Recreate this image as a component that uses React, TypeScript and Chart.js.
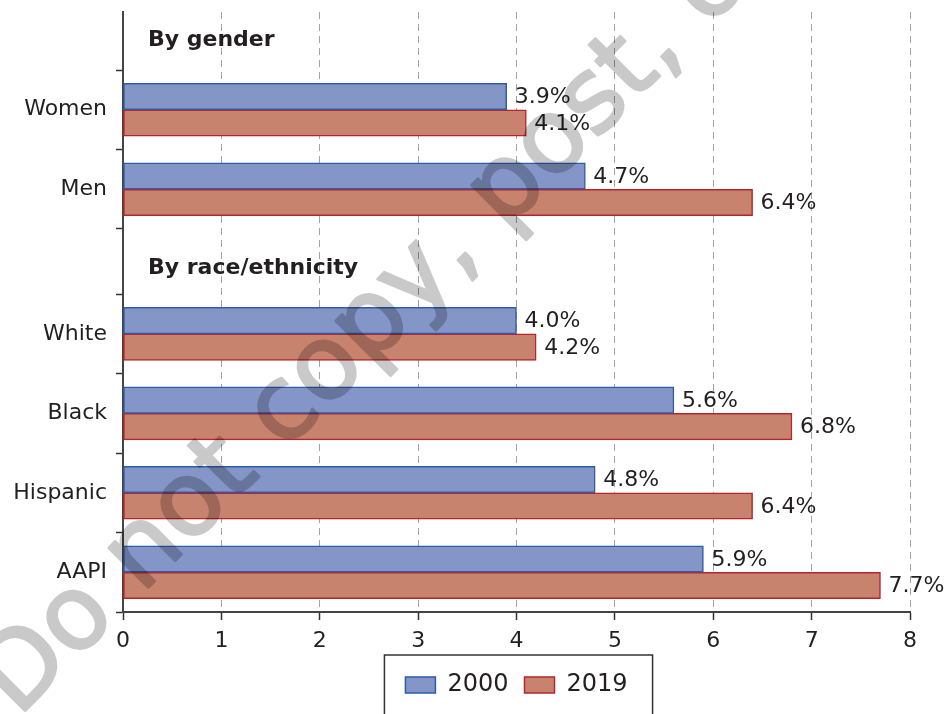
import React, { useEffect, useRef } from "react";
import { Chart, registerables } from "chart.js";

Chart.register(...registerables);

// ---------- data ----------
const categories = ["Women", "Men", "White", "Black", "Hispanic", "AAPI"];
const values2000 = [3.9, 4.7, 4.0, 5.6, 4.8, 5.9];
const values2019 = [4.1, 6.4, 4.2, 6.8, 6.4, 7.7];
const seriesLabels = ["2000", "2019"];
const groupHeaders = ["By gender", "By race/ethnicity"];
const xTickValues = [0, 1, 2, 3, 4, 5, 6, 7, 8];
const watermarkText = "Do not copy, post, or distribute";

// ---------- row layout along the category axis (row units) ----------
const rowCenters = [1.23, 2.23, 4.05, 5.05, 6.05, 7.05];
const rowBoundaries = [0.73, 1.73, 2.73, 3.55, 4.55, 5.55, 6.55, 7.55];
const headerCenters = [0.36, 3.22];
const rowAxisMax = 7.55;

const FONT = "'DejaVu Sans', sans-serif";
const TEXT = "#231F20";
const BLUE_FILL = "#8496C8";
const BLUE_BORDER = "#2E5CA6";
const RED_FILL = "#C8836F";
const RED_BORDER = "#B8242C";

const near = (a: number, b: number) => Math.abs(a - b) < 1e-6;

const valueLabelPlugin = {
  id: "valueLabels",
  afterDatasetsDraw(chart: any) {
    const ctx = chart.ctx;
    ctx.save();
    ctx.font = `22px ${FONT}`;
    ctx.fillStyle = TEXT;
    ctx.textBaseline = "middle";
    ctx.textAlign = "left";
    chart.data.datasets.forEach((ds: any, di: number) => {
      const meta = chart.getDatasetMeta(di);
      meta.data.forEach((el: any, i: number) => {
        const v = ds.data[i].x as number;
        ctx.fillText(v.toFixed(1) + "%", el.x + 8, el.y + 1);
      });
    });
    ctx.restore();
  },
};

const groupHeaderPlugin = {
  id: "groupHeaders",
  afterDatasetsDraw(chart: any) {
    const ctx = chart.ctx;
    const yScale = chart.scales.y;
    ctx.save();
    ctx.font = `bold 22px ${FONT}`;
    ctx.fillStyle = TEXT;
    ctx.textBaseline = "middle";
    ctx.textAlign = "left";
    groupHeaders.forEach((h, i) => {
      ctx.fillText(h, chart.chartArea.left + 25, yScale.getPixelForValue(headerCenters[i]));
    });
    ctx.restore();
  },
};

const legendFramePlugin = {
  id: "legendFrame",
  afterDraw(chart: any) {
    const boxes = chart.legend && chart.legend.legendHitBoxes;
    if (!boxes || !boxes.length) return;
    const first = boxes[0];
    const last = boxes[boxes.length - 1];
    const ctx = chart.ctx;
    ctx.save();
    ctx.strokeStyle = "#333";
    ctx.lineWidth = 1.5;
    const left = first.left - 21;
    const right = last.left + last.width + 25;
    const top = first.top - 18;
    ctx.strokeRect(left, top, right - left, chart.height - top + 10);
    ctx.restore();
  },
};

const watermarkPlugin = {
  id: "watermark",
  afterDraw(chart: any) {
    const { ctx, width, height } = chart;
    const off = document.createElement("canvas");
    off.width = width;
    off.height = height;
    const o = off.getContext("2d");
    if (!o) return;
    o.translate(18, 718);
    o.rotate(-Math.PI / 4);
    o.font = `103px ${FONT}`;
    o.fillStyle = "#000";
    o.strokeStyle = "#000";
    o.lineWidth = 2.5;
    o.lineJoin = "round";
    o.fillText(watermarkText, 0, 0);
    o.strokeText(watermarkText, 0, 0);
    ctx.save();
    ctx.setTransform(1, 0, 0, 1, 0, 0);
    ctx.globalAlpha = 0.21;
    ctx.drawImage(off, 0, 0);
    ctx.restore();
  },
};

export default function App() {
  const canvasRef = useRef<HTMLCanvasElement | null>(null);

  useEffect(() => {
    if (!canvasRef.current) return;
    Chart.defaults.font.family = FONT;
    Chart.defaults.font.size = 22;
    Chart.defaults.color = TEXT;

    const chart = new Chart(canvasRef.current, {
      type: "bar",
      data: {
        datasets: [
          {
            label: seriesLabels[0],
            data: values2000.map((v, i) => ({ x: v, y: rowCenters[i] })),
            backgroundColor: BLUE_FILL,
            borderColor: BLUE_BORDER,
            borderWidth: 1.5,
            borderSkipped: false,
            barThickness: 26.5,
          },
          {
            label: seriesLabels[1],
            data: values2019.map((v, i) => ({ x: v, y: rowCenters[i] })),
            backgroundColor: RED_FILL,
            borderColor: RED_BORDER,
            borderWidth: 1.5,
            borderSkipped: false,
            barThickness: 26.5,
          },
        ] as any,
      },
      options: {
        indexAxis: "y",
        animation: false,
        responsive: true,
        maintainAspectRatio: false,
        layout: { padding: { top: 12, right: 35, bottom: 7, left: 0 } },
        scales: {
          x: {
            type: "linear",
            position: "bottom",
            min: 0,
            max: 8,
            afterBuildTicks: (scale: any) => {
              scale.ticks = xTickValues.map((v) => ({ value: v }));
            },
            afterFit: (scale: any) => {
              scale.height = 45;
            },
            ticks: {
              font: { size: 22 },
              color: TEXT,
              padding: 8,
              maxRotation: 0,
              autoSkip: false,
            },
            grid: {
              display: true,
              drawOnChartArea: true,
              drawTicks: true,
              tickLength: 8,
              lineWidth: 1,
              color: (c: any) => (c.tick && c.tick.value === 0 ? "rgba(0,0,0,0)" : "#A3A3A3"),
              tickColor: "#333",
              tickWidth: 1.5,
            },
            border: { display: true, color: "#444", width: 2, dash: [7, 5] },
          },
          y: {
            type: "linear",
            position: "left",
            reverse: true,
            offset: false,
            bounds: "data",
            min: 0,
            max: rowAxisMax,
            afterBuildTicks: (scale: any) => {
              scale.ticks = [...rowBoundaries, ...rowCenters].map((v) => ({ value: v }));
            },
            afterFit: (scale: any) => {
              scale.width = 123;
              scale.paddingTop = 0;
              scale.paddingBottom = 0;
            },
            ticks: {
              autoSkip: false,
              padding: 9,
              font: { size: 22 },
              color: TEXT,
              callback: (value: any) => {
                const idx = rowCenters.findIndex((c) => near(c, Number(value)));
                return idx >= 0 ? categories[idx] : "";
              },
            },
            grid: {
              display: true,
              offset: false,
              drawOnChartArea: false,
              drawTicks: true,
              tickLength: 7,
              tickWidth: 1.5,
              tickColor: (c: any) =>
                c.tick && rowBoundaries.some((b) => near(b, c.tick.value)) ? "#333" : "rgba(0,0,0,0)",
            },
            border: { display: true, color: "#444", width: 2 },
          },
        },
        plugins: {
          legend: {
            display: true,
            position: "bottom",
            fullSize: false,
            labels: {
              boxWidth: 30,
              boxHeight: 16,
              padding: 16,
              font: { size: 24 },
              color: TEXT,
            },
          },
          tooltip: { enabled: false },
        },
      } as any,
      plugins: [valueLabelPlugin, groupHeaderPlugin, legendFramePlugin, watermarkPlugin],
    });

    return () => chart.destroy();
  }, []);

  return (
    <div style={{ position: "fixed", left: 0, top: 0, width: 945, height: 714, background: "#fff" }}>
      <canvas ref={canvasRef} />
    </div>
  );
}
